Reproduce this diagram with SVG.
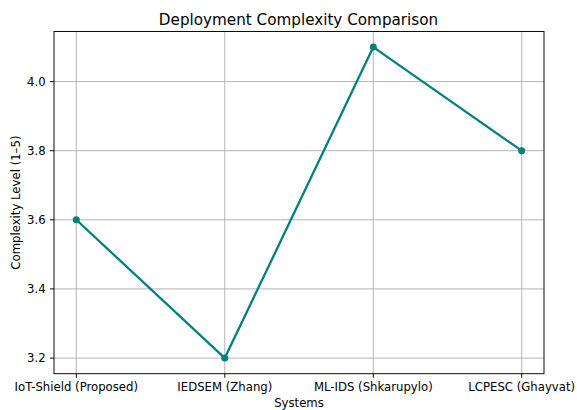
<svg xmlns="http://www.w3.org/2000/svg" width="577" height="410" viewBox="0 0 577 410">
<style>
text{font-family:"DejaVu Sans",sans-serif;fill:#000}
.tick{font-size:11.7px}
.grid{stroke:#b0b0b0;stroke-width:0.95;fill:none}
.tm{stroke:#000;stroke-width:0.95}
.pt{fill:#008080}
</style>
<rect width="577" height="410" fill="#fff"/>
<g id="grid">
<line class="grid" x1="76.3" y1="31.5" x2="76.3" y2="373.7"/>
<line class="grid" x1="224.8" y1="31.5" x2="224.8" y2="373.7"/>
<line class="grid" x1="373.3" y1="31.5" x2="373.3" y2="373.7"/>
<line class="grid" x1="521.7" y1="31.5" x2="521.7" y2="373.7"/>
<line class="grid" x1="54" y1="81.6" x2="544" y2="81.6"/>
<line class="grid" x1="54" y1="150.7" x2="544" y2="150.7"/>
<line class="grid" x1="54" y1="219.8" x2="544" y2="219.8"/>
<line class="grid" x1="54" y1="288.9" x2="544" y2="288.9"/>
<line class="grid" x1="54" y1="358.1" x2="544" y2="358.1"/>
</g>
<g id="connectors">
<polyline points="76.3,219.8 224.8,358.1 373.3,47.1 521.7,150.7" fill="none" stroke="#008080" stroke-width="2.3" stroke-linejoin="round" stroke-linecap="square"/>
</g>
<g id="p0"><circle class="pt" cx="76.3" cy="219.8" r="3.5"/></g>
<g id="p1"><circle class="pt" cx="224.8" cy="358.1" r="3.5"/></g>
<g id="p2"><circle class="pt" cx="373.3" cy="47.1" r="3.5"/></g>
<g id="p3"><circle class="pt" cx="521.7" cy="150.7" r="3.5"/></g>
<g id="axes">
<rect x="54" y="31.5" width="490" height="342.2" fill="none" stroke="#000" stroke-width="0.95"/>
<line class="tm" x1="76.3" y1="373.7" x2="76.3" y2="377.8"/>
<line class="tm" x1="224.8" y1="373.7" x2="224.8" y2="377.8"/>
<line class="tm" x1="373.3" y1="373.7" x2="373.3" y2="377.8"/>
<line class="tm" x1="521.7" y1="373.7" x2="521.7" y2="377.8"/>
<line class="tm" x1="49.9" y1="81.6" x2="54" y2="81.6"/>
<line class="tm" x1="49.9" y1="150.7" x2="54" y2="150.7"/>
<line class="tm" x1="49.9" y1="219.8" x2="54" y2="219.8"/>
<line class="tm" x1="49.9" y1="288.9" x2="54" y2="288.9"/>
<line class="tm" x1="49.9" y1="358.1" x2="54" y2="358.1"/>
</g>
<g id="labels">
<text class="tick" x="45.6" y="85.8" text-anchor="end">4.0</text>
<text class="tick" x="45.6" y="154.9" text-anchor="end">3.8</text>
<text class="tick" x="45.6" y="224" text-anchor="end">3.6</text>
<text class="tick" x="45.6" y="293.1" text-anchor="end">3.4</text>
<text class="tick" x="45.6" y="362.3" text-anchor="end">3.2</text>
<text class="tick" x="76.3" y="390.7" text-anchor="middle">IoT-Shield (Proposed)</text>
<text class="tick" x="224.8" y="390.7" text-anchor="middle">IEDSEM (Zhang)</text>
<text class="tick" x="373.3" y="390.7" text-anchor="middle">ML-IDS (Shkarupylo)</text>
<text class="tick" x="521.7" y="390.7" text-anchor="middle">LCPESC (Ghayvat)</text>
<text class="tick" x="299" y="406.7" text-anchor="middle">Systems</text>
<text class="tick" transform="translate(20,202.6) rotate(-90)" text-anchor="middle">Complexity Level (1–5)</text>
<text x="298.5" y="25" text-anchor="middle" font-size="15.2px">Deployment Complexity Comparison</text>
</g>
</svg>
